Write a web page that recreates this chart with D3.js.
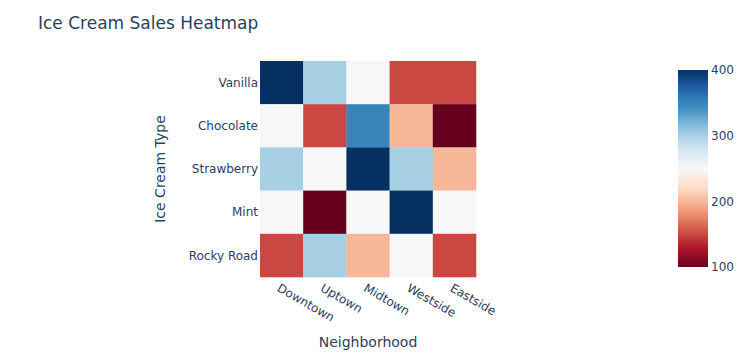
<!DOCTYPE html>
<html><head><meta charset="utf-8">
<script src="https://cdn.jsdelivr.net/npm/d3@7"></script>
<style>body{margin:0;background:#fff;} text{font-family:"DejaVu Sans",Verdana,sans-serif;fill:#2a3f5f;}</style>
</head><body>
<svg id="c" width="753" height="360"></svg>
<script>
const neighborhoods = ["Downtown","Uptown","Midtown","Westside","Eastside"];
const flavors = ["Vanilla","Chocolate","Strawberry","Mint","Rocky Road"];
const sales = [
  [400,300,250,150,150],
  [250,150,350,200,100],
  [300,250,400,300,200],
  [250,100,250,400,250],
  [150,300,200,250,150]
];
const colorTicks = [100,200,300,400];
const rdbu = ['rgb(103,0,31)','rgb(178,24,43)','rgb(214,96,77)','rgb(244,165,130)','rgb(253,219,199)','rgb(247,247,247)','rgb(209,229,240)','rgb(146,197,222)','rgb(67,147,195)','rgb(33,102,172)','rgb(5,48,97)'];

const svg = d3.select("#c");
const L=260, R=476, T=61, B=277;
const x = d3.scaleBand().domain(neighborhoods).range([L,R]);
const y = d3.scaleBand().domain(flavors).range([T,B]);
const interp = d3.piecewise(d3.interpolateRgb, rdbu);
const color = d3.scaleSequential(interp).domain([100,400]);

const cells = [];
sales.forEach((row,i)=>row.forEach((v,j)=>cells.push({f:flavors[i],n:neighborhoods[j],v})));
svg.append("g").selectAll("rect").data(cells).join("rect")
  .attr("x",d=>x(d.n)).attr("y",d=>y(d.f))
  .attr("width",x.bandwidth()+0.3).attr("height",y.bandwidth()+0.3)
  .attr("fill",d=>color(d.v));

// title
svg.append("text").attr("x",38).attr("y",29).attr("font-size",17).text("Ice Cream Sales Heatmap");

// y axis labels
svg.append("g").selectAll("text").data(flavors).join("text")
  .attr("x",L-2).attr("y",d=>y(d)+y.bandwidth()/2).attr("dy","0.35em")
  .attr("text-anchor","end").attr("font-size",12).text(d=>d);
svg.append("text").attr("transform",`translate(165,${(T+B)/2}) rotate(-90)`)
  .attr("text-anchor","middle").attr("font-size",14).text("Ice Cream Type");

// x axis labels
svg.append("g").selectAll("text").data(neighborhoods).join("text")
  .attr("transform",d=>`translate(${x(d)+x.bandwidth()/2-1},${B+6}) rotate(30)`)
  .attr("dy","0.71em").attr("font-size",12).text(d=>d);
svg.append("text").attr("x",(L+R)/2).attr("y",347).attr("text-anchor","middle")
  .attr("font-size",14).text("Neighborhood");

// colorbar
const cbX=678, cbW=30, cbT=70, cbB=267;
const defs = svg.append("defs");
const grad = defs.append("linearGradient").attr("id","cb").attr("x1",0).attr("y1",1).attr("x2",0).attr("y2",0);
d3.range(0,1.0001,0.05).forEach(t=>grad.append("stop").attr("offset",t).attr("stop-color",interp(t)));
svg.append("rect").attr("x",cbX).attr("y",cbT).attr("width",cbW).attr("height",cbB-cbT).attr("fill","url(#cb)");
const cy = d3.scaleLinear().domain([100,400]).range([cbB,cbT]);
svg.append("g").selectAll("text").data(colorTicks).join("text")
  .attr("x",cbX+cbW+3).attr("y",d=>cy(d)).attr("dy","0.35em").attr("font-size",12).text(d=>d);
</script>
</body></html>
